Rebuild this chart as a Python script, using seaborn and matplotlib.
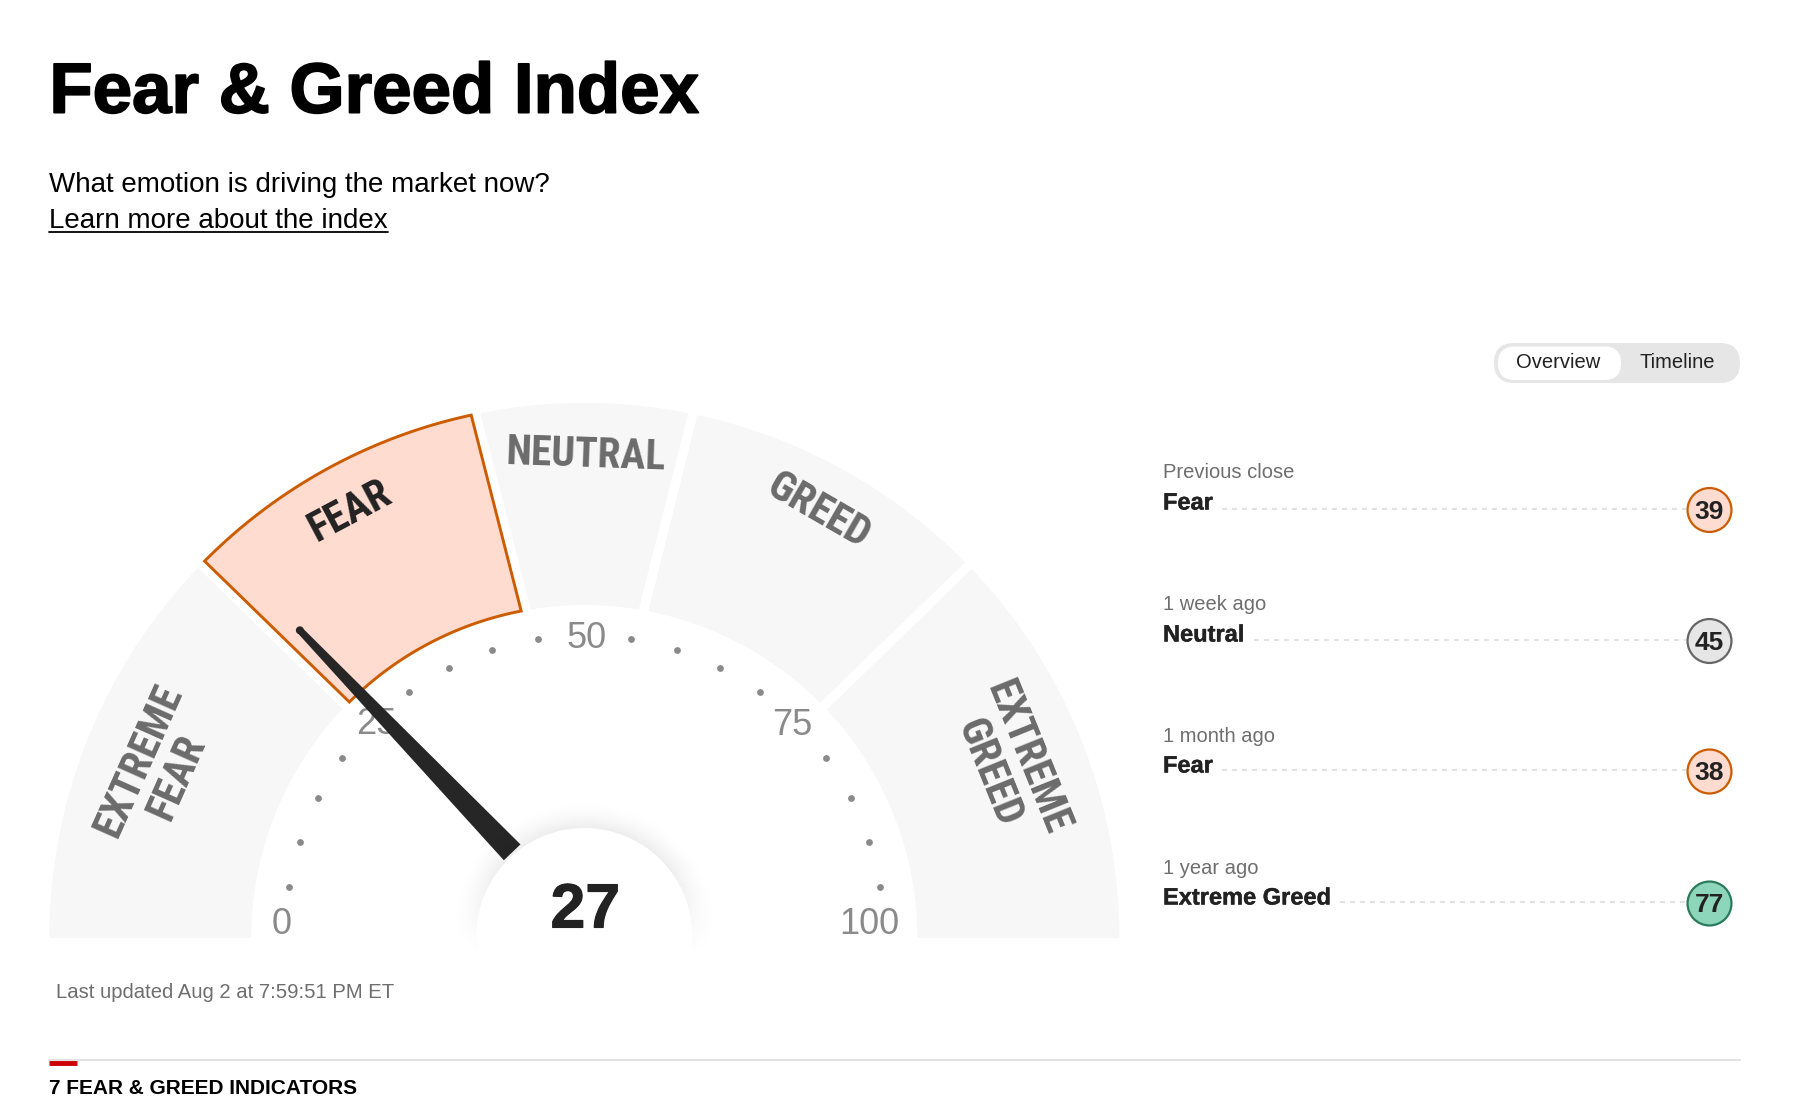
import numpy as np
import matplotlib
matplotlib.use("Agg")
import matplotlib.pyplot as plt
import matplotlib.patheffects as pe
from matplotlib.patches import Circle, FancyBboxPatch, Polygon
import seaborn as sns

# gauge data, values on the 0-100 index scale
band_names = ["EXTREME\nFEAR", "FEAR", "NEUTRAL", "GREED", "EXTREME\nGREED"]
band_edges_outer = [0, 24.6, 43.5, 56.5, 75.5, 100]
band_edges_inner = [0, 24.6, 44.4, 55.7, 75.5, 100]
active_band = 1
tick_labels = [0, 25, 50, 75, 100]
tick_dots = [5, 10, 15, 20, 30, 35, 40, 45, 55, 60, 65, 70, 80, 85, 90, 95]
score = 27

# history list on the right
history_when = ["Previous close", "1 week ago", "1 month ago", "1 year ago"]
history_rating = ["Fear", "Neutral", "Fear", "Extreme Greed"]
history_score = [39, 45, 38, 77]

# colours
band_fill = "#f7f7f7"
fear_fill = "#ffdbd0"
fear_edge = "#cc5c00"
ink = "#222222"
fills = {"Fear": fear_fill, "Neutral": "#e6e6e6", "Extreme Greed": "#8dd6bb"}
edges = {"Fear": fear_edge, "Neutral": "#666666", "Extreme Greed": "#2b7a5e"}

BODY = ["Liberation Sans", "DejaVu Sans"]
NARROW = ["Roboto Condensed", "Roboto", "DejaVu Sans"]

sns.set_theme(style="white")
plt.rcParams["font.family"] = BODY

fig = plt.figure(figsize=(18, 11.17), dpi=100, facecolor="white")
ax = fig.add_axes([0, 0, 1, 1])
ax.set_xlim(0, 1800)
ax.set_ylim(1117, 0)
ax.axis("off")

cx, cy = 584.3, 938
r_out, r_in = 535, 333
r_tick = 303
r_dot = 299
r_hub = 108


def ang(v):
    return np.radians(180 - 1.8 * v)


def px(v, r, shift=0.0):
    a = ang(v) + np.radians(shift)
    return cx + r * np.cos(a), cy - r * np.sin(a)


def band_shape(i):
    pad_o, pad_i = 0.28, 0.47  # index units, makes the white gaps
    o0 = band_edges_outer[i] + (pad_o if i > 0 else 0)
    o1 = band_edges_outer[i + 1] - (pad_o if i < 4 else 0)
    i0 = band_edges_inner[i] + (pad_i if i > 0 else 0)
    i1 = band_edges_inner[i + 1] - (pad_i if i < 4 else 0)
    pts = [px(v, r_out) for v in np.linspace(o0, o1, 80)]
    pts += [px(v, r_in) for v in np.linspace(i1, i0, 80)]
    return pts


for i, name in enumerate(band_names):
    if i == active_band:
        ax.add_patch(Polygon(band_shape(i), closed=True, fc=fear_fill, ec=fear_edge,
                             lw=2.1, joinstyle="miter", zorder=2))
    else:
        ax.add_patch(Polygon(band_shape(i), closed=True, fc=band_fill, ec="none", zorder=1))

# band labels
band_text = [(158, 769, 66), (350, 511, 28), (585.5, 455, -2), (818.5, 511, -30), (1008, 765, -68)]
for i, (name, (tx, ty, rot)) in enumerate(zip(band_names, band_text)):
    ax.text(tx, ty, name, family=NARROW, fontsize=30, fontweight="bold", rotation=rot,
            rotation_mode="anchor", ha="center", va="center", linespacing=1.02, multialignment="center",
            color=ink if i == active_band else "#6b6b6b", zorder=3)

# dots and scale numbers
dot_x = [px(v, r_dot)[0] for v in tick_dots]
dot_y = [px(v, r_dot)[1] - 4 for v in tick_dots]
sns.scatterplot(x=dot_x, y=dot_y, s=24, color="#8a8a8a", linewidth=0, ax=ax, legend=False, zorder=3)
label_nudge = [(0, -13.5), (6.5, 0.8), (2, 3.5), (-6.5, 1.5), (-18, -13.5)]
for v, (nx, ny) in zip(tick_labels, label_nudge):
    lx, ly = px(v, r_tick)
    ax.text(lx + nx, ly + ny, str(v), fontsize=26, color="#8a8a8a", ha="center", va="center", zorder=3)

# needle
tip = px(score, 419, 1.35)
base = px(score, 112, -1.3)
d = np.array([tip[0] - base[0], tip[1] - base[1]])
d = d / np.hypot(*d)
n = np.array([-d[1], d[0]])
needle = [np.array(base) + n * 11.5, np.array(tip) + n * 3.5, np.array(tip) - n * 3.5, np.array(base) - n * 11.5]
ax.add_patch(Polygon(needle, closed=True, fc="#262626", ec="none", zorder=4))
ax.add_patch(Circle(tip, 4, fc="#262626", ec="none", zorder=4))

# hub with a soft shadow that dies out towards the gauge baseline
hub_y = cy - 2
gx, gy = np.meshgrid(np.arange(cx - 160, cx + 160), np.arange(hub_y - 160, hub_y + 60))
dist = np.hypot(gx - cx, gy - hub_y)
fade = np.clip(1 - (dist - r_hub) / 32, 0, 1) ** 2 * np.clip((hub_y + 18 - gy) / 90, 0, 1)
shade = np.zeros(gx.shape + (4,))
shade[..., 3] = 0.075 * fade
ax.imshow(shade, extent=[cx - 160, cx + 160, hub_y + 60, hub_y - 160], aspect="auto",
          interpolation="bilinear", zorder=5)
ax.add_patch(Circle((cx, hub_y), r_hub, fc="white", ec="none", zorder=6))
ax.text(cx + 1, 911, str(score), fontsize=45, fontweight="bold", color=ink, ha="center", va="center",
        path_effects=[pe.withStroke(linewidth=0.8, foreground=ink)], zorder=7)

# heading
ax.text(49.4, 112.6, "Fear & Greed Index", fontsize=51, fontweight="bold", color="black", va="baseline",
        path_effects=[pe.withStroke(linewidth=1.3, foreground="black")])
ax.text(49.4, 191.5, "What emotion is driving the market now?", fontsize=20, color="black", va="baseline")
link = ax.text(49.4, 227.5, "Learn more about the index", fontsize=20, color="black", va="baseline")

fig.canvas.draw()
rend = fig.canvas.get_renderer()
box = link.get_window_extent(rend)
ax.plot([box.x0, box.x1], [231.5, 231.5], color="black", lw=1.3)

# overview / timeline switch
ax.add_patch(FancyBboxPatch((1494, 343), 246, 40, boxstyle="round,pad=0,rounding_size=20", fc="#e6e6e6", ec="none"))
ax.add_patch(FancyBboxPatch((1498, 346.5), 123, 33.5, boxstyle="round,pad=0,rounding_size=16.7", fc="white", ec="none", zorder=2))
ax.text(1558, 363, "Overview", fontsize=14.5, color=ink, ha="center", va="center", zorder=3)
ax.text(1677, 363, "Timeline", fontsize=14.5, color=ink, ha="center", va="center", zorder=3)

# history rows
when_y = [473, 605, 736, 868]
rating_y = [503, 635, 766, 898]
dash_y = [508.6, 639.5, 770.3, 902.3]
badge_y = [510, 641, 771.5, 903.5]
for when, rating, wy, ry, dy in zip(history_when, history_rating, when_y, rating_y, dash_y):
    ax.text(1163, wy, when, fontsize=14.5, color="#6e6e6e", va="center")
    t = ax.text(1163, ry, rating, fontsize=17, fontweight="bold", color=ink, va="center",
                path_effects=[pe.withStroke(linewidth=0.3, foreground=ink)])
    end = ax.transData.inverted().transform(t.get_window_extent(rend))[1][0]
    ax.plot([end + 9, 1686], [dy, dy], color="#dddddd", lw=1.2, ls=(0, (3, 3)), zorder=1)
sns.scatterplot(x=[1709.5] * 4, y=badge_y, hue=history_rating, palette=fills, s=1000,
                edgecolor=[edges[r] for r in history_rating], linewidth=1.6, ax=ax, legend=False, zorder=3)
for val, y in zip(history_score, badge_y):
    ax.text(1709.5, y + 2, str(val), fontsize=19, fontweight="bold", color=ink, ha="center", va="center", zorder=4)

# footer
ax.text(56, 992.7, "Last updated Aug 2 at 7:59:51 PM ET", fontsize=14.6, color="#6e6e6e", va="center")
ax.plot([49.4, 1740], [1059.6, 1059.6], color="#e2e2e2", lw=1.5)
ax.plot([49.4, 77], [1063, 1063], color="#cc0000", lw=3.5, solid_capstyle="butt")
ax.text(49.4, 1089, "7 FEAR & GREED INDICATORS", fontsize=15, fontweight="bold", color="black", va="center")

ax.set_xlim(0, 1800)
ax.set_ylim(1117, 0)
fig.savefig("out.png", dpi=100, facecolor="white")
